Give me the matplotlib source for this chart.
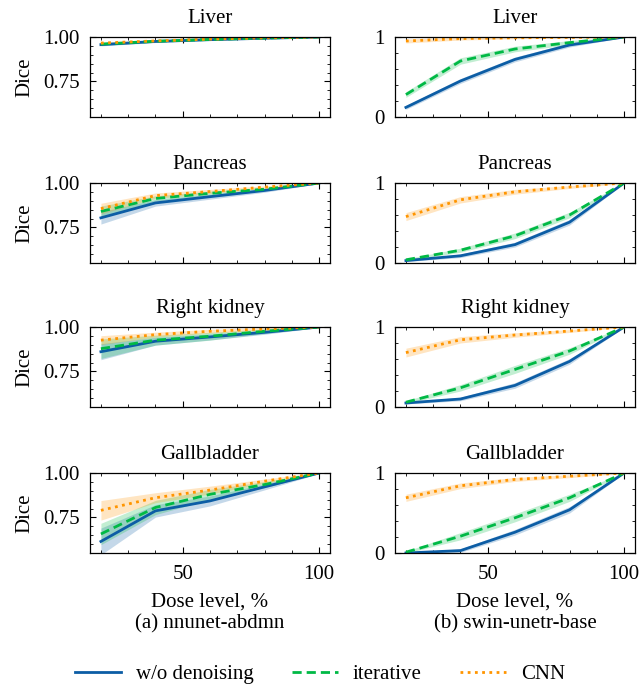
import matplotlib
matplotlib.use("Agg")
import matplotlib.pyplot as plt
import numpy as np
from matplotlib.ticker import MultipleLocator, FixedLocator

plt.rcParams['font.family'] = ['Liberation Serif', 'DejaVu Serif']
plt.rcParams['mathtext.fontset'] = 'stix'

dose = [20, 40, 60, 80, 100]
organs = ["Liver", "Pancreas", "Right kidney", "Gallbladder"]
methods = ["w/o denoising", "iterative", "CNN"]
captions = ["(a) nnunet-abdmn", "(b) swin-unetr-base"]

# (a) nnunet-abdmn : mean Dice
a_liver_wo = [0.957, 0.975, 0.985, 0.993, 1.0]
a_liver_it = [0.960, 0.976, 0.986, 0.994, 1.0]
a_liver_cnn = [0.966, 0.978, 0.988, 0.995, 1.0]
a_panc_wo = [0.804, 0.888, 0.923, 0.958, 1.0]
a_panc_it = [0.840, 0.913, 0.942, 0.965, 1.0]
a_panc_cnn = [0.856, 0.929, 0.952, 0.977, 1.0]
a_kid_wo = [0.861, 0.920, 0.944, 0.970, 1.0]
a_kid_it = [0.878, 0.926, 0.948, 0.976, 1.0]
a_kid_cnn = [0.926, 0.957, 0.976, 0.989, 1.0]
a_gall_wo = [0.615, 0.787, 0.843, 0.922, 1.0]
a_gall_it = [0.657, 0.806, 0.880, 0.935, 1.0]
a_gall_cnn = [0.790, 0.861, 0.904, 0.954, 1.0]
# (a) spread
a_liver_wo_sd = [0.007, 0.006, 0.004, 0.003, 0.002]
a_liver_it_sd = [0.007, 0.006, 0.004, 0.003, 0.002]
a_liver_cnn_sd = [0.006, 0.004, 0.003, 0.002, 0.002]
a_panc_wo_sd = [0.035, 0.018, 0.014, 0.010, 0.003]
a_panc_it_sd = [0.030, 0.015, 0.012, 0.008, 0.003]
a_panc_cnn_sd = [0.030, 0.015, 0.012, 0.007, 0.003]
a_kid_wo_sd = [0.045, 0.022, 0.017, 0.011, 0.003]
a_kid_it_sd = [0.055, 0.028, 0.022, 0.013, 0.003]
a_kid_cnn_sd = [0.025, 0.014, 0.011, 0.007, 0.003]
a_gall_wo_sd = [0.075, 0.035, 0.028, 0.017, 0.003]
a_gall_it_sd = [0.060, 0.040, 0.028, 0.017, 0.003]
a_gall_cnn_sd = [0.055, 0.028, 0.022, 0.012, 0.003]

# (b) swin-unetr-base : mean Dice
b_liver_wo = [0.12, 0.45, 0.72, 0.90, 1.0]
b_liver_it = [0.28, 0.70, 0.85, 0.93, 1.0]
b_liver_cnn = [0.95, 0.98, 0.99, 0.995, 1.0]
b_panc_wo = [0.03, 0.09, 0.23, 0.51, 1.0]
b_panc_it = [0.04, 0.16, 0.34, 0.60, 1.0]
b_panc_cnn = [0.58, 0.79, 0.89, 0.95, 1.0]
b_kid_wo = [0.05, 0.10, 0.27, 0.57, 1.0]
b_kid_it = [0.06, 0.24, 0.47, 0.70, 1.0]
b_kid_cnn = [0.68, 0.84, 0.90, 0.95, 1.0]
b_gall_wo = [0.0, 0.03, 0.26, 0.54, 1.0]
b_gall_it = [0.01, 0.21, 0.44, 0.69, 1.0]
b_gall_cnn = [0.69, 0.84, 0.92, 0.96, 1.0]
# (b) spread
b_liver_wo_sd = [0.025, 0.03, 0.03, 0.025, 0.005]
b_liver_it_sd = [0.035, 0.04, 0.035, 0.025, 0.005]
b_liver_cnn_sd = [0.025, 0.018, 0.012, 0.008, 0.005]
b_panc_wo_sd = [0.012, 0.022, 0.03, 0.035, 0.005]
b_panc_it_sd = [0.012, 0.025, 0.035, 0.035, 0.005]
b_panc_cnn_sd = [0.05, 0.04, 0.03, 0.018, 0.005]
b_kid_wo_sd = [0.012, 0.022, 0.035, 0.035, 0.005]
b_kid_it_sd = [0.018, 0.04, 0.05, 0.04, 0.005]
b_kid_cnn_sd = [0.055, 0.04, 0.028, 0.018, 0.005]
b_gall_wo_sd = [0.006, 0.022, 0.035, 0.04, 0.005]
b_gall_it_sd = [0.012, 0.045, 0.05, 0.045, 0.005]
b_gall_cnn_sd = [0.045, 0.035, 0.025, 0.018, 0.005]

panels_a = [
    [(a_liver_wo, a_liver_wo_sd), (a_liver_it, a_liver_it_sd), (a_liver_cnn, a_liver_cnn_sd)],
    [(a_panc_wo, a_panc_wo_sd), (a_panc_it, a_panc_it_sd), (a_panc_cnn, a_panc_cnn_sd)],
    [(a_kid_wo, a_kid_wo_sd), (a_kid_it, a_kid_it_sd), (a_kid_cnn, a_kid_cnn_sd)],
    [(a_gall_wo, a_gall_wo_sd), (a_gall_it, a_gall_it_sd), (a_gall_cnn, a_gall_cnn_sd)],
]
panels_b = [
    [(b_liver_wo, b_liver_wo_sd), (b_liver_it, b_liver_it_sd), (b_liver_cnn, b_liver_cnn_sd)],
    [(b_panc_wo, b_panc_wo_sd), (b_panc_it, b_panc_it_sd), (b_panc_cnn, b_panc_cnn_sd)],
    [(b_kid_wo, b_kid_wo_sd), (b_kid_it, b_kid_it_sd), (b_kid_cnn, b_kid_cnn_sd)],
    [(b_gall_wo, b_gall_wo_sd), (b_gall_it, b_gall_it_sd), (b_gall_cnn, b_gall_cnn_sd)],
]

colors = ['#0C5DA5', '#00B945', '#FF9500']
styles = ['-', (0, (3.3, 1.8)), (0, (1, 1.6))]

W, H = 640, 688
fig = plt.figure(figsize=(W / 100, H / 100), dpi=100)
FS = 15
LFS = 15

col_left = [90, 395]
col_w = 240
row_top = [37, 183, 327, 473]
row_h = 80

handles = []
for c, panels in enumerate([panels_a, panels_b]):
    for r, organ in enumerate(organs):
        x0 = col_left[c]
        y0 = row_top[r]
        ax = fig.add_axes([x0 / W, 1 - (y0 + row_h) / H, col_w / W, row_h / H])
        for k, (mean, sd) in enumerate(panels[r]):
            m = np.array(mean)
            s = np.array(sd)
            ax.fill_between(dose, m - s, m + s, color=colors[k], alpha=0.24, lw=0)
            ln, = ax.plot(dose, m, color=colors[k], ls=styles[k], lw=2.0,
                          label=methods[k])
            if c == 0 and r == 0:
                handles.append(ln)
        ax.set_title(organ, fontsize=FS, pad=10)
        ax.xaxis.set_major_locator(FixedLocator([50, 100]))
        ax.xaxis.set_minor_locator(MultipleLocator(10))
        if c == 0:
            ax.set_ylim(0.55, 1.0)
            ax.yaxis.set_major_locator(FixedLocator([0.75, 1.0]))
            ax.yaxis.set_minor_locator(MultipleLocator(0.05))
            ax.set_yticklabels(['0.75', '1.00'])
            ax.set_ylabel('Dice', fontsize=FS, labelpad=6)
        else:
            ax.set_ylim(0, 1)
            ax.yaxis.set_major_locator(FixedLocator([0, 1]))
            ax.yaxis.set_minor_locator(MultipleLocator(0.2))
            ax.set_yticklabels(['0', '1'])
        ax.tick_params(which='both', direction='in', top=True, right=True,
                       labelsize=FS)
        ax.tick_params(which='major', length=4, width=0.8)
        ax.tick_params(axis='y', which='major', pad=7.5)
        ax.tick_params(axis='x', which='major', pad=8.5)
        ax.tick_params(which='minor', length=2, width=0.6)
        if r < 3:
            ax.tick_params(labelbottom=False)
        else:
            ax.set_xticklabels(['50', '100'])
        for sp in ax.spines.values():
            sp.set_linewidth(0.9)
        ax.set_xlim(16, 104)
        if r == 3:
            xc = (x0 + col_w / 2) / W
            fig.text(xc, 1 - 602 / H, 'Dose level, %', ha='center', va='center', fontsize=FS)
            fig.text(xc, 1 - 624 / H, captions[c], ha='center', va='center', fontsize=FS)

fig.legend(handles=handles, labels=methods, loc='center', bbox_to_anchor=(0.5, 1 - 674 / H),
           ncol=3, frameon=False, fontsize=LFS, handlelength=2.2, columnspacing=1.85,
           handletextpad=0.72)

fig.savefig('out.png', dpi=100)
